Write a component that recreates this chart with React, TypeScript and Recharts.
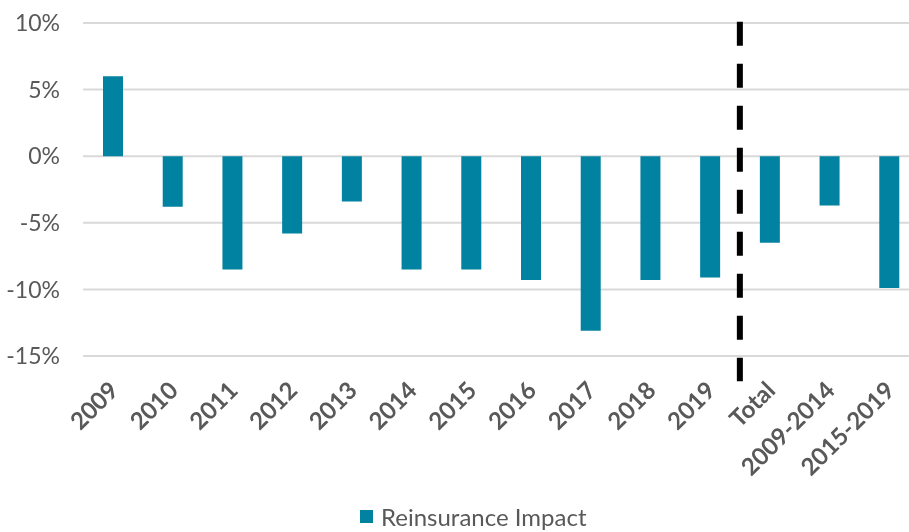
import { BarChart, Bar, XAxis, YAxis, CartesianGrid, ReferenceLine, Legend } from 'recharts';

const categories = ['2009', '2010', '2011', '2012', '2013', '2014', '2015', '2016', '2017', '2018', '2019', 'Total', '2009-2014', '2015-2019'];
const impact = [6.0, -3.8, -8.5, -5.8, -3.4, -8.5, -8.5, -9.3, -13.1, -9.3, -9.1, -6.5, -3.7, -9.9];
const yTicks = [-15, -10, -5, 0, 5, 10];

const data = categories.map((name, i) => ({ name, idx: i, impact: impact[i] }));

const TEXT = '#595959';
const BAR = '#0082A0';

const XTick = ({ x, y, payload }: any) => (
  <g transform={`translate(${x + 1},${y + 22})`}>
    <text
      x={0}
      y={0}
      dy="0.35em"
      transform="rotate(-45)"
      textAnchor="end"
      fill={TEXT}
      fontSize={24}
      fontWeight="bold"
      fontFamily="Lato"
    >
      {payload.value}
    </text>
  </g>
);

const LegendBox = () => (
  <div style={{ display: 'flex', alignItems: 'center', height: 32, fontFamily: 'Lato', fontSize: 24, color: TEXT }}>
    <span style={{ width: 13, height: 13, background: BAR, marginRight: 8 }} />
    <span>Reinsurance Impact</span>
  </div>
);

export default function App() {
  return (
    <div style={{ position: 'fixed', top: 0, left: 0, width: 909, height: 532, overflow: 'hidden' }}>
      <BarChart width={921} height={532} data={data} margin={{ top: 23, right: 2, left: 0, bottom: 54 }}>
        <CartesianGrid vertical={false} stroke="#d9d9d9" strokeWidth={2} />
        <XAxis
          dataKey="name"
          axisLine={false}
          tickLine={false}
          interval={0}
          height={90}
          tick={<XTick />}
        />
        <XAxis xAxisId="line" dataKey="idx" type="number" domain={[-0.5, 13.5]} allowDataOverflow hide />
        <YAxis
          domain={[-15, 10]}
          ticks={yTicks}
          width={83}
          axisLine={false}
          tickLine={false}
          tickMargin={17}
          tickFormatter={(v) => `${v}%`}
          tick={{ fill: TEXT, fontSize: 23, fontFamily: 'Lato' }}
        />
        <Bar dataKey="impact" fill={BAR} barSize={20} isAnimationActive={false} />
        <ReferenceLine
          xAxisId="line"
          segment={[{ x: 10.5, y: 10.1 }, { x: 10.5, y: -16.9 }]}
          ifOverflow="visible"
          stroke="#000"
          strokeWidth={6}
          strokeDasharray="24 18"
        />
        <Legend
          content={<LegendBox />}
          wrapperStyle={{ left: 360, top: 500, bottom: 'auto', width: 'auto' }}
        />
      </BarChart>
    </div>
  );
}
